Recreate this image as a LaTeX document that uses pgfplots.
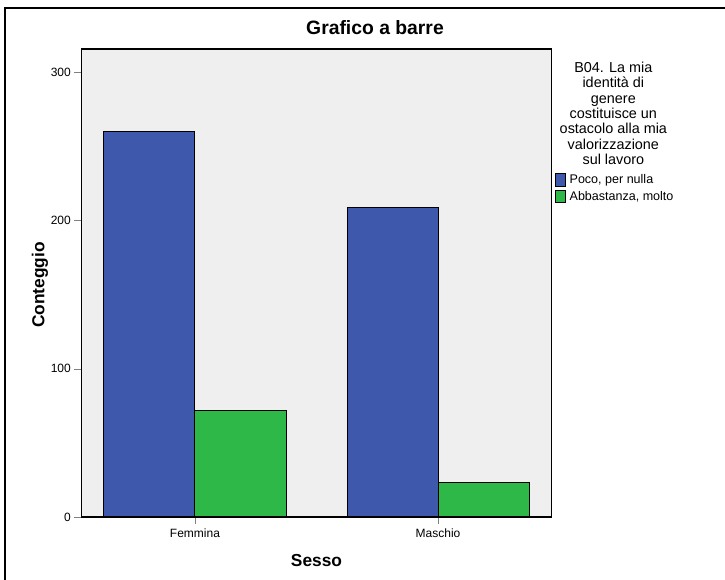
\documentclass[border=0pt]{standalone}
\usepackage{fontspec}
\setmainfont{Liberation Sans}
\usepackage{pgfplots}
\pgfplotsset{compat=1.18}
\definecolor{spssblue}{RGB}{62,88,172}
\definecolor{spssgreen}{RGB}{46,184,72}
\definecolor{plotbg}{RGB}{239,239,239}
\begin{document}
\begin{tikzpicture}
\useasboundingbox (-61.125pt,-47.25pt) rectangle (482.625pt,387.75pt);
\begin{axis}[
    at={(0pt,0pt)}, anchor=south west,
    scale only axis, width=352.5pt, height=351pt,
    ybar=0pt, bar width=0.3745,
    xmin=-0.467, xmax=1.467, ymin=0, ymax=315.6,
    xtick={0,1}, xticklabels={Femmina,Maschio},
    ytick={0,100,200,300},
    tick align=outside, major tick length=5.5pt,
    xtick pos=bottom, ytick pos=left,
    axis line style={line width=0.8pt},
    axis background/.style={fill=plotbg},
    ticklabel style={font=\fontsize{9}{10}\selectfont},
    yticklabel style={xshift=1pt},
    /pgf/number format/assume math mode=true,
    title={Grafico a barre},
    title style={font=\bfseries\fontsize{14.5}{16}\selectfont, at={(axis description cs:0.6245,1.028)}, anchor=center},
    xlabel={Sesso}, ylabel={Conteggio},
    label style={font=\bfseries\fontsize{13}{15}\selectfont},
    xlabel style={at={(axis description cs:0.5,-0.092)}, anchor=center},
    ylabel style={at={(axis description cs:-0.0883,0.496)}, anchor=center},
    legend style={at={(axis description cs:1.0074,0.735)}, anchor=north west,
        draw=none, fill=none, inner sep=0pt, row sep=1.5pt,
        font=\fontsize{9.4}{11}\selectfont, nodes={inner sep=1.2pt}},
    legend cell align=left,
    legend image code/.code={\draw[#1,draw=black,line width=0.6pt] (0pt,-4.6pt) rectangle (7.5pt,4.9pt);},
]
\addplot[fill=spssblue, draw=black, line width=0.75pt] coordinates {(0,260) (1,209)};
\addlegendentry{\hspace{1.5pt}Poco, per nulla}
\addplot[fill=spssgreen, draw=black, line width=0.75pt] coordinates {(0,72) (1,23)};
\addlegendentry{\hspace{1.5pt}Abbastanza, molto}
\end{axis}
\node[align=center, anchor=north, inner sep=0pt, font=\fontsize{10.8}{11.5}\selectfont] at (398.9pt,341.5pt)
  {B04. La mia\\identità di\\genere\\costituisce un\\ostacolo alla mia\\valorizzazione\\sul lavoro};
\draw[line width=1.5pt] (-57.375pt,-60pt) -- (-57.375pt,381.75pt) -- (495pt,381.75pt);
\end{tikzpicture}
\end{document}
